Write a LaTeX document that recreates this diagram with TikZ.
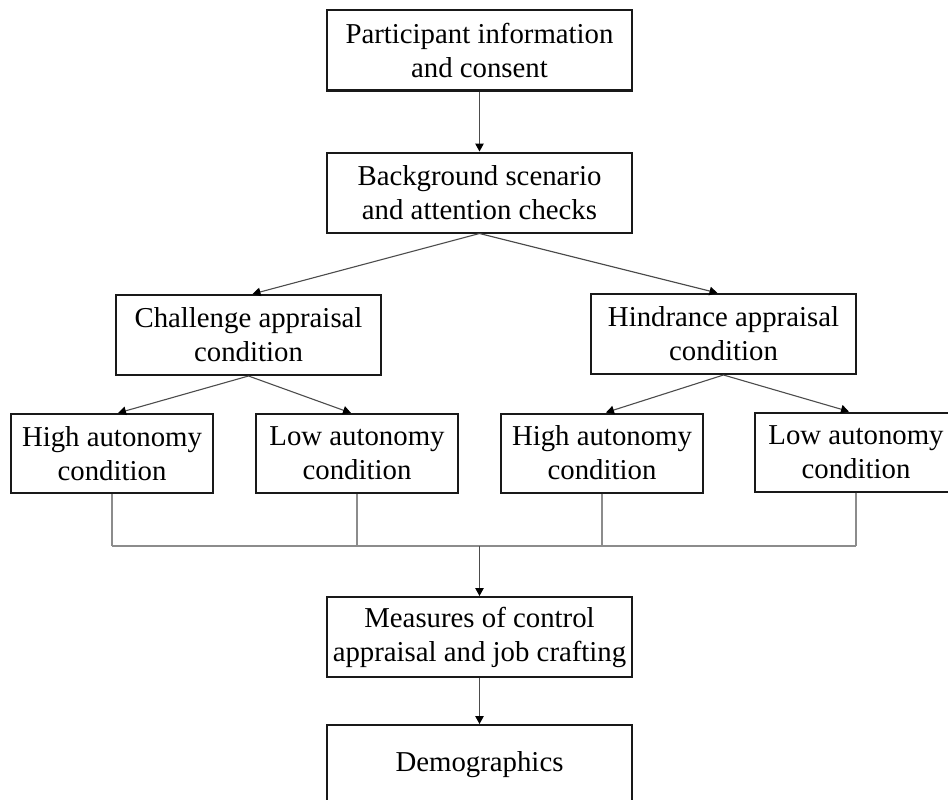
\documentclass[tikz,border=0pt]{standalone}
\usepackage{fontspec}
\setmainfont{Liberation Serif}
\usetikzlibrary{arrows.meta}
\begin{document}
\begin{tikzpicture}[x=1pt,y=-1pt,
  box/.style={draw=black!90, line width=2pt, inner sep=0pt, align=center,
    font=\fontsize{28.8}{34}\selectfont, fill=white},
  wide/.style={box, minimum width=305pt, minimum height=80pt},
  mid/.style={box, minimum width=265pt, minimum height=80pt},
  small/.style={box, minimum width=202pt, minimum height=79pt},
  conn/.style={draw=black!70, line width=1.1pt,
    -{Triangle[width=8.5pt,length=8pt,color=black]}},
  bus/.style={draw=black!45, line width=1.1pt}]
\useasboundingbox (0,0) rectangle (948,800);
\clip (0,0) rectangle (948,800);
\node[wide] (b1) at (479.5,50.5) {Participant information\\and consent};
\node[wide] (b2) at (479.5,192.5) {Background scenario\\and attention checks};
\node[mid] (b3) at (248.5,335) {Challenge appraisal\\condition};
\node[mid] (b4) at (723.5,334) {Hindrance appraisal\\condition};
\node[small] (b5) at (112,453.5) {High autonomy\\condition};
\node[small] (b6) at (357,453.5) {Low autonomy\\condition};
\node[small] (b7) at (602,453) {High autonomy\\condition};
\node[small] (b8) at (856,452) {Low autonomy\\condition};
\node[wide] (b9) at (479.5,637) {Measures of control\\appraisal and job crafting};
\node[wide] (b10) at (479.5,765) {Demographics};
\coordinate (busM) at (479.5,546);
\draw[conn] (b1.south) -- (b2.north);
\draw[conn] (b2.south) -- ([xshift=4pt]b3.north);
\draw[conn] (b2.south) -- ([xshift=-6pt]b4.north);
\draw[conn] (b3.south) -- ([xshift=6pt]b5.north);
\draw[conn] (b3.south) -- ([xshift=-6pt]b6.north);
\draw[conn] (b4.south) -- ([xshift=4pt]b7.north);
\draw[conn] (b4.south) -- ([xshift=-7pt]b8.north);
\draw[bus] (b5.south) -- (b5.south |- busM);
\draw[bus] (b6.south) -- (b6.south |- busM);
\draw[bus] (b7.south) -- (b7.south |- busM);
\draw[bus] (b8.south) -- (b8.south |- busM);
\draw[bus] (b5.south |- busM) -- (b8.south |- busM);
\draw[conn] (busM) -- (b9.north);
\draw[conn] (b9.south) -- (b10.north);
\end{tikzpicture}
\end{document}
